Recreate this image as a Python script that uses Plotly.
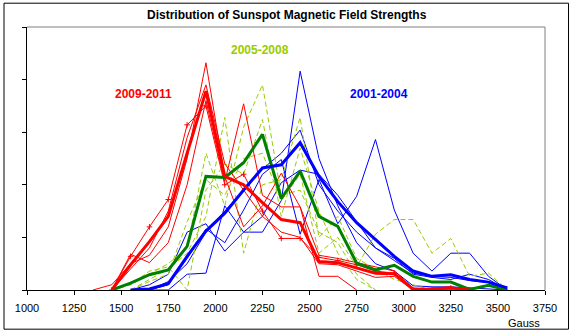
import plotly.graph_objects as go

# Field-strength bin centres (Gauss)
bins = [1350, 1450, 1550, 1650, 1750, 1850, 1950, 2050, 2150, 2250, 2350, 2450,
        2550, 2650, 2750, 2850, 2950, 3050, 3150, 3250, 3350, 3450, 3550]

N = None
# 2009-2011: individual years (thin) and average (thick)
red_a = [N, 0, 3.2, 6.0, 8.6, 15.7, 17.5, 10.0, 11.0, 7.5, 4.9, 4.9, 3.1, 2.8, 2.4, 1.8, 1.6, 0, 0, 0.2, 0, N, N]
red_b = [0, 0.5, 2.5, 3.3, 6.0, 12.5, 21.6, 10.8, 6.0, 8.0, 11.1, 7.9, 1.3, 1.3, 0, N, N, N, N, N, N, N, N]
red_c = [N, 0, 3.4, 2.6, 4.5, 10.0, 18.0, 10.3, 17.7, 9.0, 7.9, 7.9, 3.3, 3.0, 2.6, 2.2, 1.8, 0.2, 0.1, 0, 0, N, N]
red_d = [N, 0, 2.0, 4.0, 7.5, 14.5, 19.5, 12.0, 9.5, 7.0, 5.5, 5.0, 2.5, 2.4, 1.8, 1.2, 1.3, 0, 0.2, 0.3, 0, N, N]
red_avg = [N, 0, 2.4, 4.6, 7.0, 13.0, 18.9, 10.8, 10.0, 8.3, 6.7, 6.4, 2.7, 2.6, 2.1, 1.6, 1.55, 0.05, 0.1, 0.2, 0, N, N]

# 2005-2008: individual years (dashed) and average (thick)
grn_a = [N, 0, 0.5, 1.5, 2.5, 4.0, 13.0, 8.0, 15.5, 19.5, 9.0, 9.5, 5.5, 4.5, 1.5, 0, N, N, N, N, N, N, N]
grn_b = [N, N, 0, 1.0, 2.0, 3.5, 7.0, 16.4, 3.5, 10.0, 10.5, 16.4, 5.0, 7.0, 3.0, 2.0, 1.0, 0.5, 0, N, N, N, N]
grn_c = [N, 0, 0.5, 1.8, 2.2, 0, 9.5, 12.0, 11.0, 16.2, 7.0, 13.5, 7.5, 3.5, 1.0, 0, N, N, N, N, N, N, N]
grn_d = [N, N, 0, 0.8, 1.5, 6.5, 10.5, 9.0, 12.5, 13.0, 8.5, 11.0, 3.5, 5.0, 2.2, 5.3, 6.7, 6.7, 3.5, 4.9, 1.3, 1.6, 0]
grn_avg = [N, 0, 0.65, 1.45, 1.9, 4.15, 10.8, 10.7, 12.1, 14.8, 8.7, 11.3, 7.0, 6.05, 2.55, 1.9, 2.35, 1.3, 0.75, 0.75, 0.05, 0.45, 0]

# 2001-2004: individual years (thin) and average (thick)
blu_a = [N, N, 0, 0, 0, 1.5, 1.6, 8.0, 5.5, 5.5, 8.5, 20.8, 12.5, 8.0, 4.5, 2.5, 1.8, 0.4, 0.3, 0.3, 0.2, 0.1, 0]
blu_b = [N, N, N, 0, 0.5, 3.0, 5.8, 4.5, 7.6, 11.0, 12.4, 5.3, 10.5, 6.3, 8.9, 14.3, 7.6, 3.5, 1.8, 3.5, 3.5, 1.3, 0]
blu_c = [N, N, 0, 0.5, 1.5, 5.5, 6.3, 3.7, 5.5, 7.0, 10.2, 11.4, 11.0, 9.0, 6.5, 4.0, 3.0, 1.5, 1.2, 1.0, 1.5, 1.0, 0]
blu_d = [N, N, N, 0, 0.8, 2.5, 5.5, 7.5, 9.5, 11.5, 13.0, 15.2, 10.0, 7.5, 5.5, 4.0, 2.8, 1.6, 1.3, 1.2, 0.9, 0.7, 0]
blu_avg = [N, N, 0, 0.1, 0.6, 3.2, 5.6, 7.3, 9.5, 11.6, 11.9, 14.0, 10.8, 8.4, 6.4, 4.8, 3.2, 1.8, 1.3, 1.45, 1.0, 0.75, 0.2]

x_ticks = [1000, 1250, 1500, 1750, 2000, 2250, 2500, 2750, 3000, 3250, 3500, 3750]

RED = "#FF0000"
YGRN = "#99CC00"
DGRN = "#008000"
BLUE = "#0000FF"

fig = go.Figure()

def add(y, color, width=1, dash=None, markers=False):
    mode = "lines+markers" if markers else "lines"
    fig.add_trace(go.Scatter(
        x=bins, y=y, mode=mode, connectgaps=False,
        line=dict(color=color, width=width, dash=dash),
        marker=dict(symbol="cross-thin", size=4, line=dict(color=color, width=1)) if markers else None,
        hoverinfo="skip", showlegend=False))

for s in (blu_a, blu_b, blu_c, blu_d):
    add(s, BLUE)
for s in (grn_a, grn_b, grn_c, grn_d):
    add(s, YGRN, dash="5px,3px")
add(red_a, RED, markers=True)
for s in (red_b, red_c, red_d):
    add(s, RED)
add(grn_avg, DGRN, width=3)
add(blu_avg, BLUE, width=3)
add(red_avg, RED, width=3)

font = "Liberation Sans, Arial, sans-serif"

fig.update_layout(
    width=572, height=334,
    margin=dict(l=27, r=27, t=27, b=44),
    paper_bgcolor="white", plot_bgcolor="white",
    font=dict(family=font, size=11, color="black"),
    xaxis=dict(range=[1000, 3750], tickvals=x_ticks, ticktext=[str(v) for v in x_ticks],
               showgrid=False, zeroline=False, showline=True, linecolor="black", linewidth=1,
               ticks="outside", ticklen=4, tickcolor="black", tickfont=dict(size=11),
               ticklabelstandoff=4),
    yaxis=dict(range=[0, 25], dtick=5, showticklabels=False,
               showgrid=False, zeroline=False, showline=True, linecolor="black", linewidth=1,
               ticks="outside", ticklen=4, tickcolor="black"),
    shapes=[
        dict(type="line", xref="paper", yref="paper", x0=0, x1=1, y0=1, y1=1,
             line=dict(color="#808080", width=1)),
        dict(type="line", xref="paper", yref="paper", x0=1, x1=1, y0=0, y1=1,
             line=dict(color="#808080", width=1)),
        dict(type="rect", xref="paper", yref="paper", x0=-0.0444, x1=1.0454, y0=-0.149, y1=1.0905,
             line=dict(color="black", width=1)),
    ],
    annotations=[
        dict(text="<b>Distribution of Sunspot Magnetic Field Strengths</b>", xref="paper", yref="paper",
             x=0.502, y=1.044, showarrow=False, font=dict(size=12, color="black"),
             xanchor="center", yanchor="middle"),
        dict(text="Gauss", xref="paper", yref="paper", x=0.9595, y=-0.124, showarrow=False,
             font=dict(size=11, color="black"), xanchor="center", yanchor="middle"),
        dict(text="<b>2009-2011</b>", xref="paper", yref="paper", x=0.2249, y=0.7464, showarrow=False,
             font=dict(size=12, color=RED), xanchor="center", yanchor="middle"),
        dict(text="<b>2005-2008</b>", xref="paper", yref="paper", x=0.4498, y=0.9137, showarrow=False,
             font=dict(size=12, color=YGRN), xanchor="center", yanchor="middle"),
        dict(text="<b>2001-2004</b>", xref="paper", yref="paper", x=0.6786, y=0.7464, showarrow=False,
             font=dict(size=12, color=BLUE), xanchor="center", yanchor="middle"),
    ],
)

fig.write_html("out.html")
